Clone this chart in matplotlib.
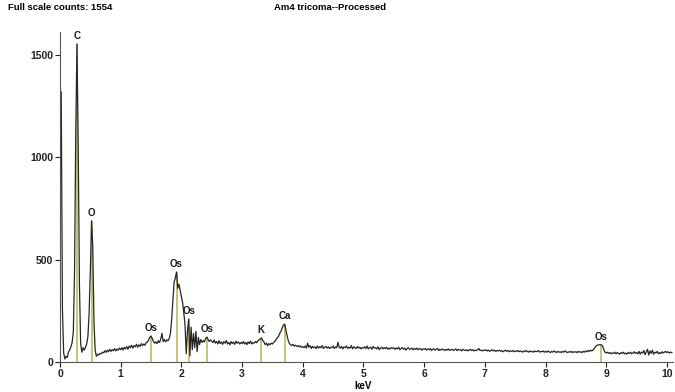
import matplotlib.pyplot as plt
import numpy as np

plt.rcParams['font.family'] = ['Liberation Sans', 'DejaVu Sans']

# counts per 0.02 keV channel
counts = [
    900, 1320, 260, 45, 15, 28, 22, 50, 58, 75, 95, 150, 450, 1130, 1554, 1050, 380, 90, 48, 70, 58, 72, 88, 125, 240,
    450, 690, 560, 190, 55, 28, 38, 35, 42, 40, 48, 45, 55, 47, 58, 50, 62, 52, 60, 55, 66, 54, 63, 58, 68,
    60, 70, 58, 72, 64, 75, 62, 78, 70, 82, 68, 80, 74, 86, 72, 84, 76, 90, 80, 88, 82, 95, 98, 108, 120,
    127, 115, 100, 92, 98, 90, 104, 95, 112, 140, 100, 110, 98, 108, 104, 115, 140, 210, 300, 390, 410, 440, 360, 380, 350,
    320, 290, 240, 180, 40, 150, 210, 30, 170, 60, 140, 70, 150, 50, 120, 85, 110, 95, 105, 98, 115, 122, 110, 100, 108,
    102, 95, 108, 92, 100, 88, 104, 90, 98, 86, 100, 92, 105, 88, 96, 84, 100, 90, 97, 86, 102, 92, 98, 88, 95,
    90, 100, 88, 96, 85, 98, 90, 102, 88, 95, 92, 100, 94, 104, 108, 112, 118, 105, 98, 85, 92, 80, 90, 84, 92,
    88, 96, 100, 110, 118, 125, 140, 150, 165, 180, 185, 160, 130, 105, 90, 84, 80, 86, 78, 82, 76, 80, 74, 79, 72,
    75, 70, 78, 68, 92, 72, 80, 66, 76, 70, 74, 65, 78, 68, 75, 70, 80, 66, 72, 76, 68, 74, 66, 72, 70,
    78, 66, 74, 70, 96, 72, 68, 76, 64, 74, 70, 78, 66, 72, 68, 80, 64, 74, 70, 66, 76, 68, 72, 64, 70,
    68, 74, 66, 78, 64, 70, 72, 62, 76, 68, 70, 64, 74, 60, 68, 72, 64, 70, 66, 72, 62, 68, 64, 70, 66,
    70, 62, 68, 64, 72, 60, 66, 70, 62, 68, 58, 66, 70, 62, 64, 68, 60, 66, 62, 68, 60, 64, 66, 58, 64,
    62, 66, 58, 64, 60, 66, 56, 62, 64, 58, 62, 66, 56, 62, 58, 64, 60, 56, 62, 58, 64, 56, 60, 62, 56,
    60, 64, 56, 62, 58, 60, 54, 62, 58, 56, 60, 54, 58, 62, 56, 60, 54, 58, 56, 60, 66, 56, 58, 54, 58,
    56, 60, 54, 58, 52, 56, 60, 54, 58, 52, 56, 54, 58, 52, 56, 50, 54, 58, 52, 56, 50, 54, 52, 56, 50,
    54, 52, 56, 50, 54, 52, 48, 54, 50, 56, 52, 48, 54, 50, 52, 48, 54, 50, 52, 56, 48, 52, 50, 54, 48,
    52, 48, 54, 50, 46, 52, 48, 54, 50, 46, 52, 48, 50, 46, 52, 48, 54, 50, 46, 50, 48, 52, 46, 50, 48,
    50, 46, 52, 48, 50, 46, 52, 48, 54, 50, 56, 52, 58, 54, 58, 64, 74, 80, 83, 84, 85, 83, 78, 60, 48,
    44, 48, 42, 46, 40, 45, 42, 48, 40, 46, 43, 38, 46, 42, 48, 40, 44, 38, 46, 42, 48, 40, 44, 50, 42,
    46, 40, 52, 38, 48, 44, 56, 36, 50, 62, 34, 54, 42, 58, 38, 48, 44, 52, 40, 46, 42, 50, 44, 48, 52,
    46, 50, 44, 48, 46,
]
kev = np.arange(len(counts)) * 0.02

# identified lines: element, energy (keV), peak height
elements = ['C', 'O', 'Os', 'Os', 'Os', 'Os', 'K', 'Ca', 'Os']
energies = [0.277, 0.525, 1.50, 1.92, 2.13, 2.42, 3.31, 3.70, 8.91]
heights = [1554, 690, 127, 440, 210, 122, 117, 185, 85]

fig = plt.figure(figsize=(6.75, 3.92), dpi=100)
ax = fig.add_axes([60/675, 30/392, 613/675, 330/392])

ax.vlines(energies, 0, heights, color='#c9c27a', lw=1.4, zorder=1)
ax.plot(kev, counts, color='#262626', lw=0.9, zorder=2)
for el, e, h in zip(elements, energies, heights):
    ax.text(e, h + 15, el, ha='center', va='bottom', fontsize=7, fontweight='bold', color='#1a1a1a')

ax.set_xlim(0, 10.1)
ax.set_ylim(0, 1612)
ax.set_xticks(range(11))
ax.set_yticks([0, 500, 1000, 1500])
ax.tick_params(labelsize=7.5, length=3.5, width=0.8, colors='#222222', pad=1.5)
for lab in ax.get_xticklabels() + ax.get_yticklabels():
    lab.set_fontweight('bold')
ax.spines['top'].set_visible(False)
ax.spines['right'].set_visible(False)
ax.spines['left'].set_color('#555555')
ax.spines['bottom'].set_color('#555555')

fig.text(8/675, 1 - 8/392, 'Full scale counts: 1554', fontsize=6.8, fontweight='bold', va='center', ha='left')
fig.text(330/675, 1 - 8/392, 'Am4 tricoma--Processed', fontsize=6.8, fontweight='bold', va='center', ha='center')
fig.text(363/675, 1 - 386/392, 'keV', fontsize=7, fontweight='bold', va='center', ha='center')

fig.savefig('out.png', dpi=100)
